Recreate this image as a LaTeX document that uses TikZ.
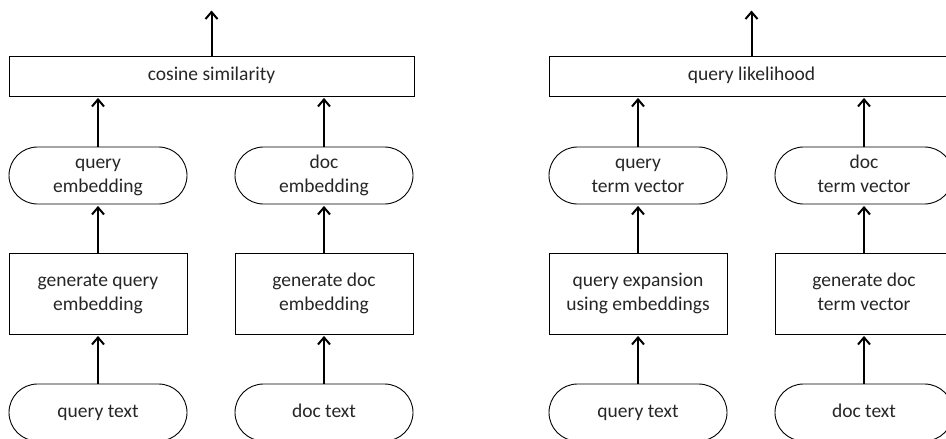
\documentclass[tikz,border=0pt]{standalone}
\usepackage{fontspec}
\setmainfont{Carlito}
\usetikzlibrary{arrows.meta}
\begin{document}
\begin{tikzpicture}[x=1pt,y=-1pt,
  box/.style={draw, line width=0.9pt, inner sep=0pt, minimum width=178pt, minimum height=81pt, align=center, text=black!85, font=\fontsize{19.5}{24}\selectfont},
  pill/.style={box, rounded corners=28.5pt, minimum height=57pt},
  wide/.style={box, minimum width=405pt, minimum height=40pt},
  arr/.style={line width=2pt, shorten >=1.5pt, -{Straight Barb[length=7pt,width=12pt]}}]
\useasboundingbox (0,0) rectangle (946,439);
\clip (0,0) rectangle (946,439);
% left panel
\node[wide] (cs) at (211.5,76) {\strut cosine similarity};
\node[pill] (qe) at (98,175.5) {\strut query\\\strut embedding};
\node[pill] (de) at (324,175.5) {\strut doc\\\strut embedding};
\node[box] (gq) at (98,293.5) {\strut generate query\\\strut embedding};
\node[box] (gd) at (324,293.5) {\strut generate doc\\\strut embedding};
\node[pill] (qt) at (98,412.5) {\strut query text};
\node[pill] (dt) at (324,412.5) {\strut doc text};
\coordinate (csout) at (211.5,9);
\draw[arr] (cs.north) -- (csout);
\draw[arr] (qe.north) -- (qe.north |- cs.south);
\draw[arr] (de.north) -- (de.north |- cs.south);
\draw[arr] (gq.north) -- (qe.south);
\draw[arr] (gd.north) -- (de.south);
\draw[arr] (qt.north) -- (gq.south);
\draw[arr] (dt.north) -- (gd.south);
% right panel
\node[wide] (ql) at (751.5,76) {\strut query likelihood};
\node[pill] (qv) at (638,175.5) {\strut query\\\strut term vector};
\node[pill] (dv) at (864,175.5) {\strut doc\\\strut term vector};
\node[box] (qx) at (638,293.5) {\strut query expansion\\\strut using embeddings};
\node[box] (gv) at (864,293.5) {\strut generate doc\\\strut term vector};
\node[pill] (qt2) at (638,412.5) {\strut query text};
\node[pill] (dt2) at (864,412.5) {\strut doc text};
\coordinate (qlout) at (751.5,9);
\draw[arr] (ql.north) -- (qlout);
\draw[arr] (qv.north) -- (qv.north |- ql.south);
\draw[arr] (dv.north) -- (dv.north |- ql.south);
\draw[arr] (qx.north) -- (qv.south);
\draw[arr] (gv.north) -- (dv.south);
\draw[arr] (qt2.north) -- (qx.south);
\draw[arr] (dt2.north) -- (gv.south);
\end{tikzpicture}
\end{document}
